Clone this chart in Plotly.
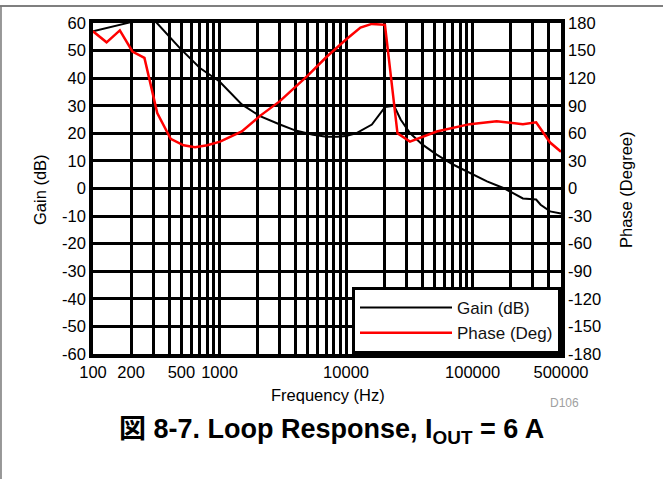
import numpy as np
import plotly.graph_objects as go

# ---- data ----
gain_freq = [100, 130, 165, 200, 240, 280, 320, 400, 486, 700, 1000, 1500, 2090, 3000,
             4000, 5480, 7000, 8500, 10000, 12000, 16000, 20300, 24000, 27000, 32000,
             40000, 52000, 70000, 95000, 130000, 175000, 250000, 318000, 345000, 410000, 500000]
gain_db = [57, 58.3, 59.3, 60.3, 62.5, 62.5, 60, 55.2, 50.9, 43.7, 38.8, 30.5, 26.2, 23.2,
           21.0, 19.5, 18.8, 18.8, 19.0, 20.0, 23.2, 29.5, 30.0, 25.0, 20.1,
           16.0, 12.3, 8.7, 5.6, 2.6, 0.2, -3.6, -4.0, -5.9, -8.3, -9.1]

phase_freq = [100, 128, 163, 205, 255, 322, 411, 520, 640, 800, 1010, 1500, 2090, 3000,
              5000, 7000, 10000, 13000, 16000, 20300, 25500, 32000, 52000, 95000,
              155000, 250000, 318000, 410000, 500000]
phase_deg = [171, 159, 172, 149, 142, 82, 54, 47, 45, 47, 51, 62, 79, 95,
             123, 143, 162, 175, 179, 178, 60, 51, 62, 70,
             73, 70, 72, 50, 40]

x_tick_vals = [100, 200, 500, 1000, 10000, 100000, 500000]
x_tick_text = ["100", "200", "500", "1000", "10000", "100000", "500000"]
minor_vals = [m * 10 ** d for d in range(2, 6) for m in range(2, 10)
              if m * 10 ** d < 500000 and m * 10 ** d not in x_tick_vals]
gain_ticks = list(range(-60, 61, 10))
gain_tick_text = [str(v) for v in gain_ticks]
phase_ticks = list(range(-180, 181, 30))
phase_tick_text = [str(v) for v in phase_ticks]

FONT = "Liberation Sans, Arial, Helvetica, sans-serif"
TS = 16.5

fig = go.Figure()
fig.add_trace(go.Scatter(x=gain_freq, y=gain_db, mode="lines", name="Gain (dB)",
                         line=dict(color="black", width=2)))
fig.add_trace(go.Scatter(x=phase_freq, y=phase_deg, mode="lines", name="Phase (Deg)",
                         line=dict(color="#ff0000", width=2.5), yaxis="y2"))

fig.update_layout(
    width=663, height=479,
    margin=dict(l=93, r=102, t=23, b=125),
    paper_bgcolor="white", plot_bgcolor="white",
    font=dict(family=FONT, size=TS, color="black"),
    showlegend=True,
    legend=dict(x=1, y=0, xanchor="right", yanchor="bottom",
                bgcolor="white", bordercolor="black", borderwidth=3,
                font=dict(family=FONT, size=17, color="#111"),
                itemwidth=92, tracegroupgap=0),
    xaxis=dict(type="log", range=[2, np.log10(500000)],
               tickmode="array", tickvals=x_tick_vals, ticktext=x_tick_text,
               showgrid=True, gridcolor="black", gridwidth=2.5,
               minor=dict(tickmode="array", tickvals=minor_vals, showgrid=True,
                          gridcolor="black", gridwidth=2.5, ticks=""),
               showline=True, linecolor="black", linewidth=3.5, mirror=True,
               ticks="", tickfont=dict(size=TS)),
    yaxis=dict(range=[-60, 60], tickmode="array", tickvals=gain_ticks, ticktext=gain_tick_text,
               showgrid=True, gridcolor="black", gridwidth=2.5, zeroline=False,
               showline=True, linecolor="black", linewidth=3.5, mirror=True,
               ticks="", tickfont=dict(size=TS)),
    yaxis2=dict(range=[-180, 180], tickmode="array", tickvals=phase_ticks,
                ticktext=phase_tick_text, overlaying="y", side="right",
                showgrid=False, zeroline=False, showline=True, linecolor="black",
                linewidth=3.5, ticks="", tickfont=dict(size=TS)),
)

annotations = [
    dict(text="Gain (dB)", xref="paper", yref="paper", x=-0.1132, y=0.4955,
         textangle=-90, showarrow=False, xanchor="center", yanchor="middle",
         font=dict(size=TS)),
    dict(text="Phase (Degree)", xref="paper", yref="paper", x=1.1389, y=0.4955,
         textangle=-90, showarrow=False, xanchor="center", yanchor="middle",
         font=dict(size=TS)),
    dict(text="Frequency (Hz)", xref="paper", yref="paper", x=0.502, y=-0.124,
         showarrow=False, xanchor="center", yanchor="middle", font=dict(size=TS)),
    dict(text="D106", xref="paper", yref="paper", x=1.0085, y=-0.148,
         showarrow=False, xanchor="center", yanchor="middle",
         font=dict(size=12, color="#a0a0a0")),
    dict(text="<b>図 8-7. Loop Response, I<sub>OUT</sub> = 6 A</b>", xref="paper", yref="paper",
         x=0.51, y=-0.232, showarrow=False, xanchor="center", yanchor="middle",
         font=dict(size=27, family="Liberation Sans, Arial, Noto Sans CJK JP, sans-serif",
                   color="black")),
]
fig.update_layout(annotations=annotations)

fig.update_layout(shapes=[
    dict(type="line", xref="paper", yref="paper", x0=-0.1987, x1=1.218, y0=1.0514, y1=1.0514,
         line=dict(color="#555555", width=1.5)),
    dict(type="line", xref="paper", yref="paper", x0=-0.1966, x1=-0.1966, y0=1.0514, y1=-0.3776,
         line=dict(color="#777777", width=1.5)),
])

fig.write_html("out.html",
               config={"displayModeBar": False},
               post_script="document.body.style.margin='0';document.body.style.padding='0';")
